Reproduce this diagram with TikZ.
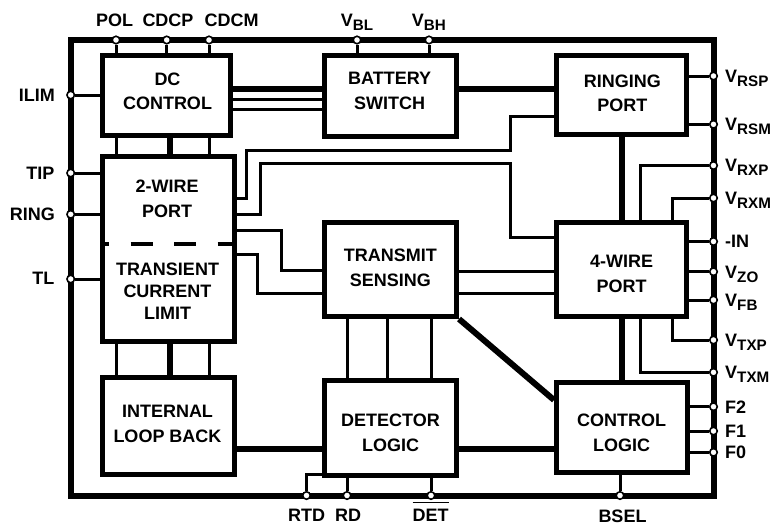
\documentclass[tikz,border=0pt]{standalone}
\usepackage{fontspec}
\setmainfont{Liberation Sans}
\newcommand{\Vsub}[1]{V\raisebox{-4pt}{\fontsize{15.2}{15.2}\selectfont #1}}
\begin{document}
\begin{tikzpicture}[x=1pt,y=-1pt,
  every node/.style={inner sep=0pt, font=\fontsize{18}{24.5}\selectfont\bfseries},
  box/.style={draw, line width=5pt, rectangle},
  txt/.style={align=center},
  frame/.style={line width=6pt},
  wire/.style={line width=3pt},
  bus/.style={line width=6pt},
  pin/.style={circle, draw, fill=white, line width=1.6pt, minimum size=7.5pt, inner sep=0pt},
  divider/.style={line width=4pt, dash pattern=on 22pt off 21.5pt, dash phase=15.5pt}
]
\useasboundingbox (0,0) rectangle (774,525);

% frame
\draw[frame] (70.7,40) rectangle (713.5,495.5);

% boxes
\node[box, minimum width=127.5pt, minimum height=80pt] (dc) at (166.25,95.5) {};
\node[box, minimum width=132.5pt, minimum height=80.5pt] (bat) at (390.25,95.75) {};
\node[box, minimum width=130pt, minimum height=78.5pt] (rp) at (621.5,94.75) {};
\node[box, minimum width=132pt, minimum height=185pt] (tw) at (168.5,249) {};
\node[box, minimum width=132.5pt, minimum height=94pt] (ts) at (390.25,269.5) {};
\node[box, minimum width=130pt, minimum height=94pt] (fw) at (621.5,269.5) {};
\node[box, minimum width=132pt, minimum height=96.5pt] (ilb) at (168.5,425.75) {};
\node[box, minimum width=132.5pt, minimum height=95.5pt] (dl) at (390.25,427.75) {};
\node[box, minimum width=131pt, minimum height=90pt] (cl) at (622,427.5) {};

% box texts
\node[txt] (tdc) at (167.5,91.2) {DC\\CONTROL};
\node[txt] (tbat) at (389.7,90.8) {BATTERY\\SWITCH};
\node[txt] (trp) at (622.3,93.4) {RINGING\\PORT};
\node[txt] (ttw) at (167.2,199) {2-WIRE\\PORT};
\node[txt] (ttcl) at (167.5,291) {TRANSIENT\\[-2.5pt]CURRENT\\[-2.5pt]LIMIT};
\node[txt] (tts) at (390.3,268) {TRANSMIT\\SENSING};
\node[txt] (tfw) at (621.7,274) {4-WIRE\\PORT};
\node[txt] (tilb) at (167.5,424) {INTERNAL\\LOOP BACK};
\node[txt] (tdl) at (390.5,433) {DETECTOR\\LOGIC};
\node[txt] (tcl) at (621.7,433) {CONTROL\\LOGIC};

% helper coordinates
\coordinate (y244) at (0,244.3);
\draw[divider] ([xshift=2.5pt]tw.west |- y244) -- ([xshift=-2.5pt]tw.east |- y244);

\foreach \n/\v in {x116/116,x170/170,x209/209.3,x246/246,x257/257,x260/260,x281/281,x510/510.5,x347/347,x387/387,x431/431,x622/621.7,x640/640,x672/672.3}
  \coordinate (\n) at (\v,0);
\foreach \n/\v in {y88/88.7,y99/99.3,y109/109,y116/116,y150/150,y163/163.3,y198/198.3,y214/214.3,y230/230,y238/237.7,y254/254.3,y270/270,y293/293.3,y272/271.7,y400/400,y449/449.3,y474/474.5}
  \coordinate (\n) at (0,\v);

% pins
\node[pin] (pol) at (116,40) {};
\node[pin] (cdcp) at (166.7,40) {};
\node[pin] (cdcm) at (209,40) {};
\node[pin] (vbl) at (357,40) {};
\node[pin] (vbh) at (429,40) {};
\node[pin] (ilim) at (70.7,95) {};
\node[pin] (tip) at (70.7,173) {};
\node[pin] (ring) at (70.7,214.3) {};
\node[pin] (tl) at (70.7,279) {};
\node[pin] (vrsp) at (713.5,76) {};
\node[pin] (vrsm) at (713.5,124.3) {};
\node[pin] (vrxp) at (713.5,165.5) {};
\node[pin] (vrxm) at (713.5,198) {};
\node[pin] (nin) at (713.5,241.5) {};
\node[pin] (vzo) at (713.5,271.7) {};
\node[pin] (vfb) at (713.5,300) {};
\node[pin] (vtxp) at (713.5,340) {};
\node[pin] (vtxm) at (713.5,372.3) {};
\node[pin] (f2) at (713.5,406.7) {};
\node[pin] (f1) at (713.5,431) {};
\node[pin] (f0) at (713.5,452.3) {};
\node[pin] (rtd) at (306.5,495.5) {};
\node[pin] (rd) at (347,495.5) {};
\node[pin] (det) at (431,495.5) {};
\node[pin] (bsel) at (620,495.5) {};

% pin connectors
\draw[wire] (pol) -- (pol |- dc.north);
\draw[wire] (cdcp) -- (cdcp |- dc.north);
\draw[wire] (cdcm) -- (cdcm |- dc.north);
\draw[wire] (vbl) -- (vbl |- bat.north);
\draw[wire] (vbh) -- (vbh |- bat.north);
\draw[wire] (ilim) -- (ilim -| dc.west);
\draw[wire] (tip) -- (tip -| tw.west);
\draw[wire] (ring) -- (ring -| tw.west);
\draw[wire] (tl) -- (tl -| tw.west);
\draw[wire] (vrsp -| rp.east) -- (vrsp);
\draw[wire] (vrsm -| rp.east) -- (vrsm);
\draw[wire] (fw.north -| x640) |- (vrxp);
\draw[wire] (fw.north -| x672) |- (vrxm);
\draw[wire] (nin -| fw.east) -- (nin);
\draw[wire] (vzo -| fw.east) -- (vzo);
\draw[wire] (vfb -| fw.east) -- (vfb);
\draw[wire] (fw.south -| x672) |- (vtxp);
\draw[wire] (fw.south -| x640) |- (vtxm);
\draw[wire] (f2 -| cl.east) -- (f2);
\draw[wire] (f1 -| cl.east) -- (f1);
\draw[wire] (f0 -| cl.east) -- (f0);
\draw[wire] (rtd) |- (dl.west |- y474);
\draw[wire] (rd) -- (rd |- dl.south);
\draw[wire] (det) -- (det |- dl.south);
\draw[wire] (bsel) -- (bsel |- cl.south);

% internal connectors
\draw[wire] (dc.south -| x116) -- (tw.north -| x116);
\draw[bus]  (dc.south -| x170) -- (tw.north -| x170);
\draw[wire] (dc.south -| x209) -- (tw.north -| x209);
\draw[wire] (tw.south -| x116) -- (ilb.north -| x116);
\draw[bus]  (tw.south -| x170) -- (ilb.north -| x170);
\draw[wire] (tw.south -| x209) -- (ilb.north -| x209);
\draw[bus]  (dc.east |- y88) -- (bat.west |- y88);
\draw[wire] (dc.east |- y99) -- (bat.west |- y99);
\draw[wire] (dc.east |- y109) -- (bat.west |- y109);
\draw[bus]  (bat.east |- y88) -- (rp.west |- y88);
\draw[wire] (rp.west |- y116) -| (x510 |- y150) -| (x246 |- y198) -- (tw.east |- y198);
\draw[wire] (tw.east |- y214) -| (x260 |- y163) -| (x510 |- y238) -- (fw.west |- y238);
\draw[wire] (tw.east |- y230) -| (x281 |- y270) -- (ts.west |- y270);
\draw[wire] (tw.east |- y254) -| (x257 |- y293) -- (ts.west |- y293);
\draw[wire] (ts.east |- y272) -- (fw.west |- y272);
\draw[wire] (ts.east |- y293) -- (fw.west |- y293);
\draw[bus]  (rp.south -| x622) -- (fw.north -| x622);
\draw[bus]  (fw.south -| x622) -- (cl.north -| x622);
\draw[wire] (ts.south -| x347) -- (dl.north -| x347);
\draw[wire] (ts.south -| x387) -- (dl.north -| x387);
\draw[wire] (ts.south -| x431) -- (dl.north -| x431);
\draw[bus]  (ts.south east) -- (cl.west |- y400);
\draw[bus]  (ilb.east |- y449) -- (dl.west |- y449);
\draw[bus]  (dl.east |- y449) -- (cl.west |- y449);

% labels
\node (lpol) at (114.7,20) {POL};
\node (lcdcp) at (168,20) {CDCP};
\node (lcdcm) at (231.7,20) {CDCM};
\node[anchor=base west] (lvbl) at (340.7,26.7) {\Vsub{BL}};
\node[anchor=base west] (lvbh) at (411.7,26.7) {\Vsub{BH}};
\node[anchor=east] (lilim) at (55,95) {ILIM};
\node[anchor=east] (ltip) at (54.5,173) {TIP};
\node[anchor=east] (lring) at (55,214.3) {RING};
\node[anchor=east] (ltl) at (54.5,278.5) {TL};
\node[anchor=base west] (lvrsp) at (725,82.4) {\Vsub{RSP}};
\node[anchor=base west] (lvrsm) at (725,130.7) {\Vsub{RSM}};
\node[anchor=base west] (lvrxp) at (725,171.9) {\Vsub{RXP}};
\node[anchor=base west] (lvrxm) at (725,204.4) {\Vsub{RXM}};
\node[anchor=base west] (lnin) at (725,247.9) {-IN};
\node[anchor=base west] (lvzo) at (725,278.1) {\Vsub{ZO}};
\node[anchor=base west] (lvfb) at (725,306.4) {\Vsub{FB}};
\node[anchor=base west] (lvtxp) at (725,346.4) {\Vsub{TXP}};
\node[anchor=base west] (lvtxm) at (725,378.7) {\Vsub{TXM}};
\node[anchor=base west] (lf2) at (725,413.1) {F2};
\node[anchor=base west] (lf1) at (725,437.4) {F1};
\node[anchor=base west] (lf0) at (725,458.7) {F0};
\node (lrtd) at (306.7,515.8) {RTD};
\node (lrd) at (348,515.8) {RD};
\node (ldet) at (430.7,515.8) {DET};
\draw[line width=1.5pt] ([yshift=7pt]ldet.north west) -- ([yshift=7pt]ldet.north east);
\node (lbsel) at (622.5,515.8) {BSEL};
\end{tikzpicture}
\end{document}
